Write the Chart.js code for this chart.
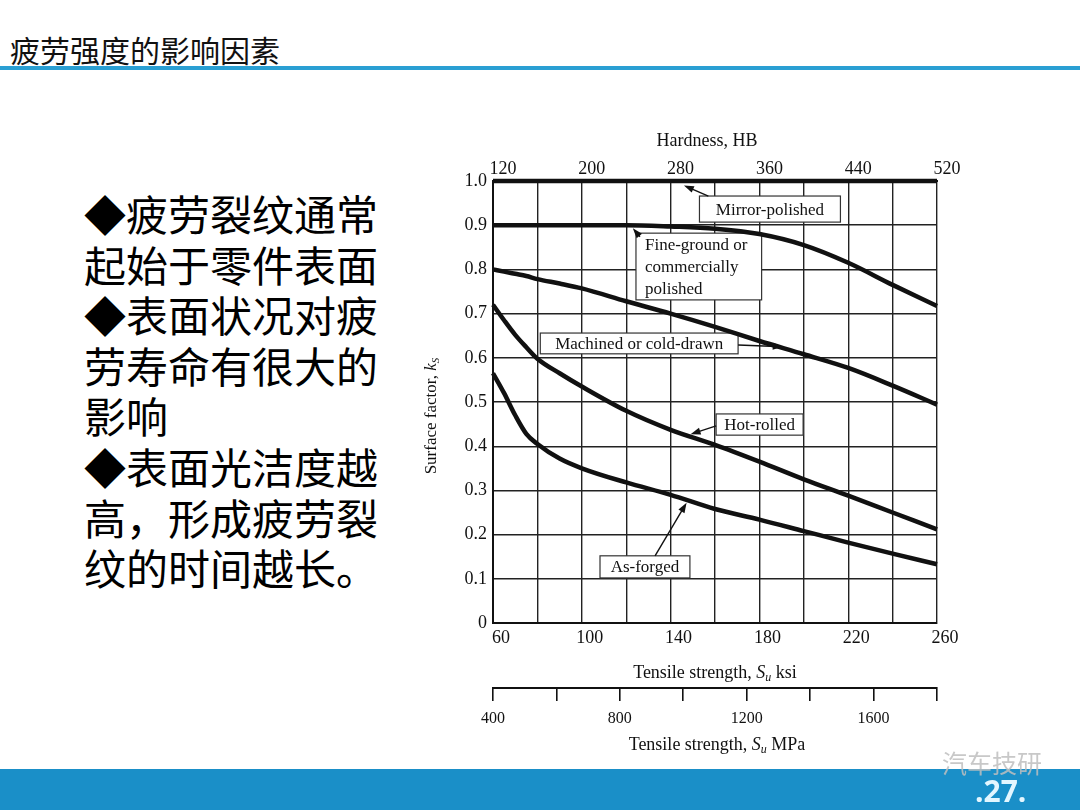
<!DOCTYPE html>
<html>
<head>
<meta charset="utf-8">
<script src="https://cdn.jsdelivr.net/npm/chart.js@4.4.0/dist/chart.umd.min.js"></script>
<style>
  body { margin: 0; width: 1080px; height: 810px; overflow: hidden; background: #fff; position: relative; font-family: "Noto Sans CJK SC", sans-serif; }
  .title { position: absolute; left: 10px; top: 34px; font-size: 30px; line-height: 30px; color: #111; }
  .rule { position: absolute; left: 0; top: 66px; width: 1080px; height: 4px; background: #2a9fd3; }
  .points { position: absolute; left: 84px; top: 188px; font-size: 42px; line-height: 50.6px; color: #000; }
  .footer { position: absolute; left: 0; top: 769px; width: 1080px; height: 41px; background: #1a8fc8; }
  .page { position: absolute; left: 975px; top: 776px; color: #e3f6ff; font: bold 30px/30px "Open Sans", sans-serif; }
  .mark { position: absolute; left: 942px; top: 748px; color: rgba(190, 190, 190, 0.85); font-size: 25px; line-height: 28px; }
  #wrap { position: absolute; left: 400px; top: 110px; width: 570px; height: 660px; }
</style>
</head>
<body>
<div class="title">疲劳强度的影响因素</div>
<div class="rule"></div>
<div class="points">
  ◆疲劳裂纹通常<br>起始于零件表面<br>◆表面状况对疲<br>劳寿命有很大的<br>影响<br>◆表面光洁度越<br>高，形成疲劳裂<br>纹的时间越长。
</div>
<div id="wrap"><canvas id="surfaceChart" width="570" height="660"></canvas></div>
<div class="footer"></div>
<div class="mark">汽车技研</div>
<div class="page">.27.</div>

<script>
// tensile strength, ksi
const ksi = [60, 65, 70, 75, 80, 90, 100, 120, 140, 160, 180, 200, 220, 240, 260];

// surface factor k_S for each finish
const mirrorPolished = [1.0, 1.0, 1.0, 1.0, 1.0, 1.0, 1.0, 1.0, 1.0, 1.0, 1.0, 1.0, 1.0, 1.0, 1.0];
const fineGround = [0.90, 0.90, 0.90, 0.90, 0.90, 0.90, 0.90, 0.90, 0.897, 0.892, 0.88, 0.855, 0.815, 0.765, 0.717];
const machined = [0.80, 0.795, 0.79, 0.785, 0.778, 0.768, 0.757, 0.728, 0.70, 0.67, 0.638, 0.608, 0.577, 0.537, 0.494];
const hotRolled = [0.72, 0.685, 0.652, 0.624, 0.598, 0.565, 0.535, 0.48, 0.437, 0.403, 0.365, 0.325, 0.288, 0.25, 0.212];
const asForged = [0.565, 0.52, 0.47, 0.428, 0.405, 0.372, 0.35, 0.318, 0.29, 0.258, 0.234, 0.208, 0.182, 0.157, 0.133];

// tick labels
const ksiLabels = [60, 100, 140, 180, 220, 260];
const hardnessLabels = [120, 200, 280, 360, 440, 520];
const mpaLabels = [400, 800, 1200, 1600];

const serif = '"Liberation Serif", "Times New Roman", serif';
const ink = '#111';

// callout boxes, placed in data units (ksi, k_S)
const callouts = [
    { lines: ['Mirror-polished'], box: [153, 216.5, 0.966, 0.907], from: [157, 0.966], to: [146, 0.99] },
    { lines: ['Fine-ground or', 'commercially', 'polished'], box: [124.4, 181, 0.882, 0.731], left: true, from: [126.2, 0.874], to: [123, 0.893] },
    { lines: ['Machined or cold-drawn'], box: [81.3, 170.4, 0.656, 0.609], from: [170.4, 0.629], to: [190.5, 0.625] },
    { lines: ['Hot-rolled'], box: [160.5, 199.7, 0.473, 0.425], from: [160.5, 0.446], to: [149, 0.427] },
    { lines: ['As-forged'], box: [108.2, 148.7, 0.152, 0.102], from: [133, 0.152], to: [147.2, 0.272] }
];

function series(values) {
    return ksi.map((x, i) => ({ x: x, y: values[i] }));
}

function curve(values) {
    return {
        data: series(values),
        borderColor: ink,
        borderWidth: 4.5,
        pointRadius: 0,
        fill: false,
        cubicInterpolationMode: 'monotone',
        clip: 6
    };
}

function drawRich(ctx, parts, x, y) {
    let total = 0;
    parts.forEach(p => {
        ctx.font = p.font;
        p.w = ctx.measureText(p.text).width;
        total += p.w;
    });
    let cx = x - total / 2;
    parts.forEach(p => {
        ctx.font = p.font;
        ctx.fillText(p.text, cx, y + (p.dy || 0));
        cx += p.w;
    });
}

const axisTitles = {
    id: 'axisTitles',
    afterDraw(chart) {
        const ctx = chart.ctx;
        const area = chart.chartArea;
        const midX = (area.left + area.right) / 2;
        ctx.save();
        ctx.fillStyle = ink;
        ctx.textAlign = 'left';
        ctx.textBaseline = 'middle';

        drawRich(ctx, [{ text: 'Hardness, HB', font: '18px ' + serif }], midX - 8, area.top - 40);

        drawRich(ctx, [
            { text: 'Tensile strength, ', font: '18px ' + serif },
            { text: 'S', font: 'italic 18px ' + serif },
            { text: 'u', font: 'italic 12px ' + serif, dy: 5 },
            { text: ' ksi', font: '18px ' + serif }
        ], midX, chart.scales.x.top + 50);

        drawRich(ctx, [
            { text: 'Tensile strength, ', font: '18px ' + serif },
            { text: 'S', font: 'italic 18px ' + serif },
            { text: 'u', font: 'italic 12px ' + serif, dy: 5 },
            { text: ' MPa', font: '18px ' + serif }
        ], midX + 2, chart.scales.mpa.top + 57);

        ctx.translate(area.left - 61, (area.top + area.bottom) / 2 + 14);
        ctx.rotate(-Math.PI / 2);
        drawRich(ctx, [
            { text: 'Surface factor, ', font: '17px ' + serif },
            { text: 'k', font: 'italic 17px ' + serif },
            { text: 'S', font: 'italic 11px ' + serif, dy: 4 }
        ], 0, 0);
        ctx.restore();
    }
};

function arrow(ctx, x1, y1, x2, y2) {
    const a = Math.atan2(y2 - y1, x2 - x1);
    ctx.beginPath();
    ctx.moveTo(x1, y1);
    ctx.lineTo(x2 - 6 * Math.cos(a), y2 - 6 * Math.sin(a));
    ctx.stroke();
    ctx.beginPath();
    ctx.moveTo(x2, y2);
    ctx.lineTo(x2 - 10 * Math.cos(a) + 3.5 * Math.sin(a), y2 - 10 * Math.sin(a) - 3.5 * Math.cos(a));
    ctx.lineTo(x2 - 10 * Math.cos(a) - 3.5 * Math.sin(a), y2 - 10 * Math.sin(a) + 3.5 * Math.cos(a));
    ctx.closePath();
    ctx.fill();
}

const calloutBoxes = {
    id: 'calloutBoxes',
    beforeDatasetsDraw(chart) {
        const ctx = chart.ctx;
        const xs = chart.scales.x;
        const ys = chart.scales.y;
        ctx.save();
        ctx.font = '17px ' + serif;
        ctx.textBaseline = 'middle';
        callouts.forEach(c => {
            const l = xs.getPixelForValue(c.box[0]);
            const r = xs.getPixelForValue(c.box[1]);
            const t = ys.getPixelForValue(c.box[2]);
            const b = ys.getPixelForValue(c.box[3]);
            ctx.fillStyle = '#fff';
            ctx.fillRect(l, t, r - l, b - t);
            ctx.strokeStyle = '#333';
            ctx.lineWidth = 1.2;
            ctx.strokeRect(l, t, r - l, b - t);
            ctx.fillStyle = ink;
            const step = (b - t) / c.lines.length;
            c.lines.forEach((line, i) => {
                const y = t + step * (i + 0.5) + 1;
                if (c.left) {
                    ctx.textAlign = 'left';
                    ctx.fillText(line, l + 9, y);
                } else {
                    ctx.textAlign = 'center';
                    ctx.fillText(line, (l + r) / 2, y);
                }
            });
            ctx.lineWidth = 1.4;
            ctx.strokeStyle = ink;
            arrow(ctx,
                xs.getPixelForValue(c.from[0]), ys.getPixelForValue(c.from[1]),
                xs.getPixelForValue(c.to[0]), ys.getPixelForValue(c.to[1]));
        });
        ctx.restore();
    }
};

const ctx = document.getElementById('surfaceChart').getContext('2d');

new Chart(ctx, {
    type: 'line',
    data: {
        datasets: [
            curve(mirrorPolished),
            curve(fineGround),
            curve(machined),
            curve(hotRolled),
            curve(asForged)
        ]
    },
    options: {
        responsive: false,
        animation: false,
        events: [],
        layout: {
            padding: { left: 0, right: 33, top: 0, bottom: 0 }
        },
        plugins: {
            legend: { display: false },
            tooltip: { enabled: false }
        },
        scales: {
            x: {
                type: 'linear',
                position: 'bottom',
                min: 60,
                max: 260,
                weight: 0,
                afterFit: s => { s.height = 65; },
                ticks: {
                    stepSize: 20,
                    autoSkip: false,
                    maxRotation: 0,
                    padding: 4,
                    labelOffset: 8,
                    color: ink,
                    font: { family: serif, size: 18 },
                    callback: v => ksiLabels.includes(Math.round(v)) ? String(Math.round(v)) : ''
                },
                grid: { color: '#222', lineWidth: 1.4, drawTicks: false },
                border: { display: true, color: ink, width: 2 }
            },
            mpa: {
                type: 'linear',
                position: 'bottom',
                min: 400,
                max: 1800,
                weight: 1,
                afterFit: s => { s.height = 82; },
                ticks: {
                    stepSize: 200,
                    autoSkip: false,
                    maxRotation: 0,
                    padding: 8,
                    color: ink,
                    font: { family: serif, size: 16 },
                    callback: v => mpaLabels.includes(Math.round(v)) ? String(Math.round(v)) : ''
                },
                grid: { drawOnChartArea: false, drawTicks: true, tickLength: 13, color: ink, lineWidth: 1.6 },
                border: { display: true, color: ink, width: 2 }
            },
            hb: {
                type: 'linear',
                position: 'top',
                min: 120,
                max: 520,
                afterFit: s => { s.height = 71; },
                ticks: {
                    stepSize: 80,
                    autoSkip: false,
                    maxRotation: 0,
                    padding: 1,
                    labelOffset: 10,
                    color: ink,
                    font: { family: serif, size: 18 },
                    callback: v => hardnessLabels.includes(Math.round(v)) ? String(Math.round(v)) : ''
                },
                grid: { drawOnChartArea: false, drawTicks: false },
                border: { display: true, color: ink, width: 2 }
            },
            y: {
                type: 'linear',
                position: 'left',
                min: 0,
                max: 1,
                afterFit: s => { s.width = 93; },
                ticks: {
                    stepSize: 0.1,
                    padding: 6,
                    color: ink,
                    font: { family: serif, size: 18 },
                    callback: v => v === 0 ? '0' : v.toFixed(1)
                },
                grid: { color: '#222', lineWidth: 1.4, drawTicks: false },
                border: { display: true, color: ink, width: 2 }
            }
        }
    },
    plugins: [calloutBoxes, axisTitles]
});
</script>
</body>
</html>
